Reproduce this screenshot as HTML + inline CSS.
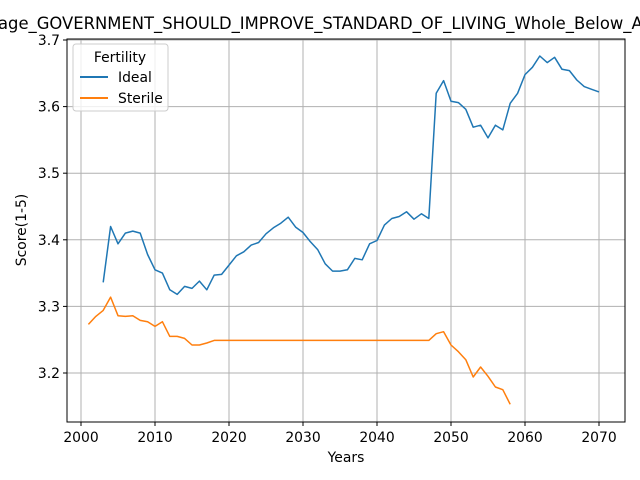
<!DOCTYPE html>
<html><head><meta charset="utf-8"><style>body{margin:0;background:#fff}svg{display:block;font-family:"DejaVu Sans","Liberation Sans",sans-serif}</style></head>
<body>
<svg id="chart" width="640" height="480" xmlns="http://www.w3.org/2000/svg">
<text x="-2" y="29" font-size="16.4">age_GOVERNMENT_SHOULD_IMPROVE_STANDARD_OF_LIVING_Whole_Below_Average</text>
<g id="grid"></g>
<g id="series"></g>
<rect x="67" y="39" width="558" height="383" fill="none" stroke="#000" stroke-width="1"/>
<g id="ticks" font-size="13.9"></g>
<text x="346" y="462" font-size="13.9" text-anchor="middle">Years</text>
<text transform="translate(26,230) rotate(-90)" font-size="13.9" text-anchor="middle">Score(1-5)</text>
<g>
<rect x="73" y="44" width="95" height="67" rx="3" fill="#fff" fill-opacity="0.8" stroke="#ccc"/>
<text x="120" y="62" font-size="13.9" text-anchor="middle">Fertility</text>
<g><line x1="80" y1="77" x2="108" y2="77" stroke="#1f77b4" stroke-width="2"/><text x="118" y="82" font-size="13.9">Ideal</text></g>
<g><line x1="80" y1="98" x2="108" y2="98" stroke="#ff7f0e" stroke-width="2"/><text x="118" y="103" font-size="13.9">Sterile</text></g>
</g>
</svg>
<script>
const idealStart = 2003;
const idealValues = [3.336,3.420,3.394,3.410,3.413,3.410,3.378,3.355,3.350,3.325,3.318,3.330,3.327,3.338,3.325,3.347,3.348,3.362,3.376,3.382,3.392,3.396,3.409,3.418,3.425,3.434,3.419,3.411,3.397,3.385,3.364,3.353,3.353,3.355,3.372,3.370,3.394,3.399,3.422,3.432,3.435,3.442,3.431,3.439,3.432,3.620,3.639,3.608,3.606,3.596,3.569,3.572,3.553,3.572,3.565,3.605,3.620,3.648,3.659,3.676,3.666,3.674,3.656,3.654,3.640,3.630,3.626,3.622];
const sterileStart = 2001;
const sterileValues = [3.273,3.285,3.294,3.314,3.286,3.285,3.286,3.279,3.277,3.270,3.277,3.255,3.255,3.252,3.242,3.242,3.245,3.249,3.249,3.249,3.249,3.249,3.249,3.249,3.249,3.249,3.249,3.249,3.249,3.249,3.249,3.249,3.249,3.249,3.249,3.249,3.249,3.249,3.249,3.249,3.249,3.249,3.249,3.249,3.249,3.249,3.249,3.259,3.262,3.242,3.232,3.220,3.194,3.209,3.195,3.179,3.175,3.153];
const xTicks = [2000,2010,2020,2030,2040,2050,2060,2070];
const yTicks = [3.2,3.3,3.4,3.5,3.6,3.7];
const NS='http://www.w3.org/2000/svg';
const xs = v => 81 + (v-2000)*(599-81)/70;
const ys = v => 373 - (v-3.2)*(373-40)/0.5;
function mk(tag, attrs, parent){const e=document.createElementNS(NS,tag);for(const k in attrs)e.setAttribute(k,attrs[k]);parent.appendChild(e);return e;}
const grid=document.getElementById('grid'), ticks=document.getElementById('ticks'), series=document.getElementById('series');
xTicks.forEach(t=>{
  const x=xs(t);
  const g=mk('line',{x1:x,x2:x,y1:39,y2:422,stroke:'#b0b0b0','stroke-width':1},grid);
  
  
  mk('line',{x1:x,x2:x,y1:422,y2:426,stroke:'#000'},ticks);
  const l=mk('text',{x:x,y:442,'text-anchor':'middle'},ticks);l.textContent=t;
  
  
});
yTicks.forEach(t=>{
  const y=ys(t);
  const g=mk('line',{x1:67,x2:625,y1:y,y2:y,stroke:'#b0b0b0','stroke-width':1},grid);
  
  
  mk('line',{x1:63,x2:67,y1:y,y2:y,stroke:'#000'},ticks);
  const l=mk('text',{x:60,y:y+5,'text-anchor':'end'},ticks);l.textContent=t.toFixed(1);
  
  
});
function line(start, vals, color, name){
  const pts=vals.map((v,i)=>xs(start+i).toFixed(1)+','+ys(v).toFixed(1)).join(' ');
  const p=mk('polyline',{points:pts,fill:'none',stroke:color,'stroke-width':1.5,'stroke-linejoin':'round'},series);
  
  
}
line(idealStart, idealValues, '#1f77b4', 'ideal-line');
line(sterileStart, sterileValues, '#ff7f0e', 'sterile-line');
</script>
</body></html>
